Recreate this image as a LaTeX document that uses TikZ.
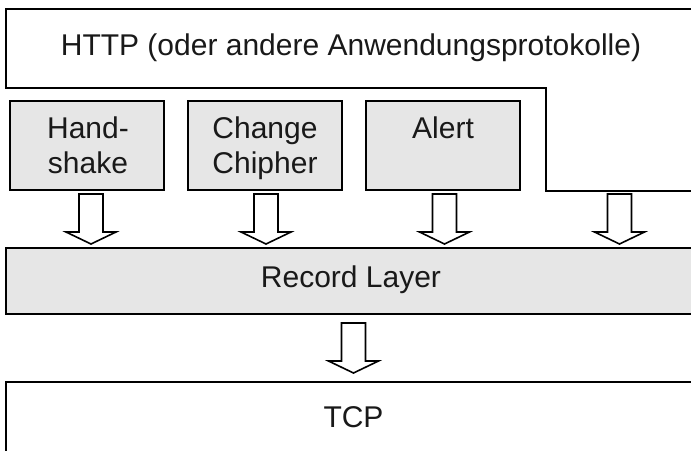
\documentclass[tikz,border=0pt]{standalone}
\usepackage{fontspec}
\setmainfont{Liberation Sans}
\begin{document}
\begin{tikzpicture}[x=1pt,y=-1pt,
  every node/.style={inner sep=0pt,outer sep=0pt},
  layer/.style={draw=black,line width=2.5pt},
  graybox/.style={layer,fill=boxgray,rectangle,minimum width=154pt,minimum height=89pt},
  lbl/.style={text=black!90,font=\fontsize{30}{35}\selectfont,anchor=base},
  arrowline/.style={draw=black,fill=white,line width=1.6pt,line join=miter},
  downarrow/.pic={\path[arrowline] (-12,0) -- (-12,38) -- (-25,38) -- (0,50) -- (25,38) -- (12,38) -- (12,0) -- cycle;}
]
\definecolor{boxgray}{RGB}{230,230,230}
\clip (0,0) rectangle (691,450);
\fill[white] (0,0) rectangle (691,450);
% HTTP layer
\path[layer,fill=white] (6,9) -- (705,9) -- (705,191) -- (546,191) -- (546,88) -- (6,88) -- cycle;
\node[lbl] (http) at (351,55) {HTTP (oder andere Anwendungsprotokolle)};
% protocol boxes
\node[graybox] (hs) at (87,145.5) {};
\node[graybox] (cc) at (265,145.5) {};
\node[graybox] (al) at (443,145.5) {};
\node[lbl] (hst) at (88,138) {\begin{tabular}[t]{@{}c@{}}Hand-\\shake\end{tabular}};
\node[lbl] (cct) at (265,138) {\begin{tabular}[t]{@{}c@{}}Change\\Chipher\end{tabular}};
\node[lbl] (alt) at (443,138) {Alert};
% record layer
\node[layer,fill=boxgray,rectangle,minimum width=704pt,minimum height=66pt] (rec) at (358,281) {};
\node[lbl] (rect) at (351,287) {Record Layer};
% TCP
\node[layer,fill=white,rectangle,minimum width=704pt,minimum height=90pt] (tcp) at (358,427) {};
\node[lbl] (tcpt) at (353.5,427) {TCP};
% arrows
\pic at (91,194) {downarrow};
\pic at (266,194) {downarrow};
\pic at (444.5,194) {downarrow};
\pic at (619.5,194) {downarrow};
\pic at (353.5,323) {downarrow};
\end{tikzpicture}
\end{document}
